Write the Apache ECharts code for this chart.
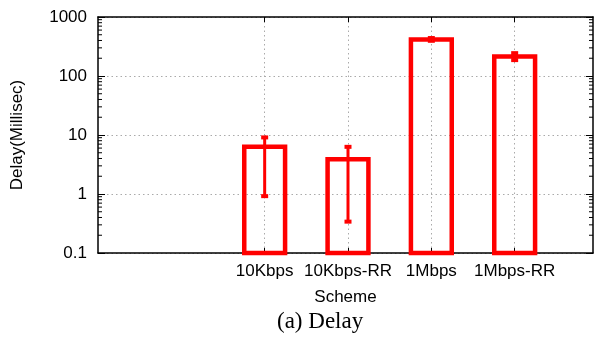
<!DOCTYPE html>
<html>
<head>
<meta charset="utf-8">
<script src="https://cdn.jsdelivr.net/npm/echarts@6/dist/echarts.min.js"></script>
<style>
html, body { margin: 0; padding: 0; background: #fff; }
#chart { width: 597px; height: 342px; }
</style>
</head>
<body>
<div id="chart"></div>
<script>
// data
var schemes = ['10Kbps', '10Kbps-RR', '1Mbps', '1Mbps-RR'];
var delay = [6.3, 3.9, 415, 215];
var errLow = [0.92, 0.34, 395, 186];
var errHigh = [9.1, 6.3, 440, 244];
var schemePos = [0, 1, 2, 3];
var xMin = -2, xMax = 3.94;
var yMin = 0.1, yMax = 1000;

// log minor ticks 2..9 in every decade
var minorTicks = [];
for (var d = yMin; d < yMax; d *= 10) {
    for (var k = 2; k <= 9; k++) minorTicks.push(+(d * k).toPrecision(3));
}

var RED = '#ff0000';
var FONT = 'Liberation Sans';

var myChart = echarts.init(document.getElementById('chart'));

myChart.setOption({
    animation: false,
    grid: { left: 98, top: 17, right: 4, bottom: 89 },
    xAxis: [{
        type: 'value',
        position: 'bottom',
        min: xMin,
        max: xMax,
        name: 'Scheme',
        nameLocation: 'middle',
        nameGap: 36,
        nameTextStyle: { fontFamily: FONT, fontSize: 17, color: '#000' },
        axisLine: { onZero: false, lineStyle: { color: '#000', width: 1.5 } },
        axisTick: { inside: true, length: 5, customValues: schemePos, lineStyle: { color: '#000' } },
        axisLabel: {
            customValues: schemePos,
            margin: 10,
            fontFamily: FONT, fontSize: 17, color: '#000',
            formatter: function (v) { return schemes[v] || ''; }
        },
        splitLine: { show: true, lineStyle: { color: '#aaa', type: [1.5, 3], width: 1 } }
    }, {
        type: 'value',
        position: 'top',
        min: xMin,
        max: xMax,
        axisLine: { onZero: false, lineStyle: { color: '#000', width: 1.5 } },
        axisTick: { inside: true, length: 5, customValues: schemePos, lineStyle: { color: '#000' } },
        axisLabel: { show: false },
        splitLine: { show: false }
    }],
    yAxis: [{
        type: 'log',
        logBase: 10,
        min: yMin,
        max: yMax,
        name: 'Delay(Millisec)',
        nameLocation: 'middle',
        nameGap: 72,
        nameTextStyle: { fontFamily: FONT, fontSize: 17, color: '#000' },
        axisLine: { show: true, onZero: false, lineStyle: { color: '#000', width: 1.5 } },
        axisTick: { show: true, inside: true, length: 7, lineStyle: { color: '#000' } },
        axisLabel: {
            margin: 11, fontFamily: FONT, fontSize: 17, color: '#000',
            formatter: function (v) { return String(v); }
        },
        splitLine: { show: true, lineStyle: { color: '#aaa', type: [1.5, 3], width: 1 } }
    }, {
        type: 'log',
        logBase: 10,
        position: 'right',
        min: yMin,
        max: yMax,
        axisLine: { show: true, onZero: false, lineStyle: { color: '#000', width: 1.5 } },
        axisTick: { show: true, inside: true, length: 7, lineStyle: { color: '#000' } },
        axisLabel: { show: false },
        splitLine: { show: false }
    }],
    series: [{
        // minor log ticks on both y frames
        type: 'custom',
        silent: true,
        data: minorTicks,
        renderItem: function (params, api) {
            var v = api.value(0);
            var l = api.coord([xMin, v]);
            var r = api.coord([xMax, v]);
            var st = { stroke: '#000', lineWidth: 1 };
            return {
                type: 'group',
                children: [
                    { type: 'line', shape: { x1: l[0], y1: l[1], x2: l[0] + 4, y2: l[1] }, style: st },
                    { type: 'line', shape: { x1: r[0], y1: r[1], x2: r[0] - 4, y2: r[1] }, style: st }
                ]
            };
        },
        encode: { y: 0 }
    }, {
        // hollow bars
        type: 'custom',
        data: schemePos.map(function (x, i) { return [x, delay[i]]; }),
        renderItem: function (params, api) {
            var x = api.value(0), v = api.value(1);
            var p1 = api.coord([x - 0.245, v]);
            var p2 = api.coord([x + 0.245, yMin]);
            return {
                type: 'rect',
                shape: { x: p1[0], y: p1[1], width: p2[0] - p1[0], height: p2[1] - p1[1] },
                style: { fill: 'none', stroke: RED, lineWidth: 4.5 }
            };
        },
        encode: { x: 0, y: 1 },
        z: 3
    }, {
        // error bars
        type: 'custom',
        data: schemePos.map(function (x, i) { return [x, errLow[i], errHigh[i]]; }),
        renderItem: function (params, api) {
            var x = api.value(0);
            var lo = api.coord([x, api.value(1)]);
            var hi = api.coord([x, api.value(2)]);
            var capW = 7, capH = 4;
            return {
                type: 'group',
                children: [
                    { type: 'line', shape: { x1: lo[0], y1: lo[1], x2: hi[0], y2: hi[1] }, style: { stroke: RED, lineWidth: 3 } },
                    { type: 'rect', shape: { x: hi[0] - capW / 2, y: hi[1] - capH / 2, width: capW, height: capH }, style: { fill: RED } },
                    { type: 'rect', shape: { x: lo[0] - capW / 2, y: lo[1] - capH / 2, width: capW, height: capH }, style: { fill: RED } }
                ]
            };
        },
        encode: { x: 0, y: [1, 2] },
        z: 4
    }],
    graphic: [{
        type: 'text',
        left: 277,
        top: 310,
        style: {
            text: '(a) Delay',
            font: '23px "Liberation Serif"',
            fill: '#000'
        }
    }]
});
</script>
</body>
</html>
